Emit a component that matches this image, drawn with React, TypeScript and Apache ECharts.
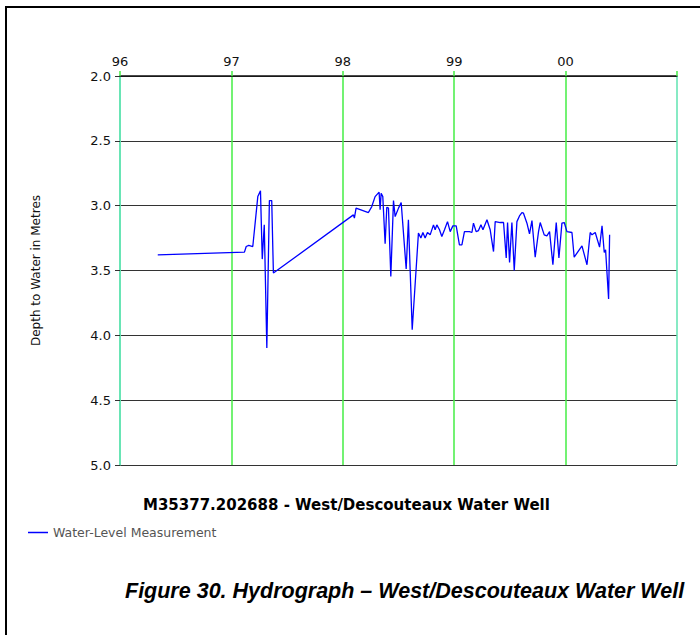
import React, { useEffect, useRef } from "react";
import * as echarts from "echarts";

const years: number[] = [
  1996.339, 1997.117, 1997.133, 1997.156, 1997.192, 1997.237, 1997.261, 1997.277, 1997.295, 1997.318,
  1997.341, 1997.362, 1997.377, 1998.095, 1998.104, 1998.119, 1998.23, 1998.26, 1998.29, 1998.326,
  1998.335, 1998.344, 1998.359, 1998.38, 1998.395, 1998.41, 1998.431, 1998.455, 1998.47, 1998.5,
  1998.524, 1998.569, 1998.589, 1998.623, 1998.679, 1998.701, 1998.719, 1998.739, 1998.76, 1998.784,
  1998.814, 1998.829, 1998.844, 1998.868, 1998.889, 1998.913, 1998.94, 1998.964, 1998.988, 1999.018,
  1999.047, 1999.069, 1999.092, 1999.137, 1999.159, 1999.173, 1999.197, 1999.218, 1999.24, 1999.258,
  1999.294, 1999.323, 1999.353, 1999.368, 1999.413, 1999.443, 1999.467, 1999.479, 1999.497, 1999.518,
  1999.539, 1999.563, 1999.586, 1999.608, 1999.622, 1999.653, 1999.676, 1999.698, 1999.727, 1999.757,
  1999.772, 1999.808, 1999.832, 1999.856, 1999.886, 1999.916, 1999.94, 1999.967, 1999.988, 2000.012,
  2000.057, 2000.077, 2000.147, 2000.192, 2000.221, 2000.237, 2000.266, 2000.305, 2000.327, 2000.347,
  2000.359, 2000.386, 2000.395,
];

const depths: number[] = [
  3.379, 3.358, 3.315, 3.307, 3.315, 2.93, 2.886, 3.412, 3.148, 4.098,
  2.961, 2.961, 3.52, 3.071, 3.096, 3.019, 3.053, 3.007, 2.93, 2.896,
  3.032, 2.904, 2.93, 3.294, 3.012, 3.019, 3.546, 2.961, 3.084, 3.019,
  2.976, 3.489, 3.109, 3.957, 3.212, 3.25, 3.207, 3.25, 3.207, 3.225,
  3.148, 3.186, 3.148, 3.186, 3.238, 3.186, 3.123, 3.2, 3.156, 3.156,
  3.302, 3.302, 3.2, 3.2, 3.207, 3.135, 3.2, 3.192, 3.148, 3.186,
  3.109, 3.186, 3.354, 3.123, 3.13, 3.13, 3.404, 3.13, 3.438, 3.13,
  3.5, 3.123, 3.079, 3.053, 3.058, 3.135, 3.217, 3.115, 3.397, 3.2,
  3.13, 3.225, 3.233, 3.2, 3.456, 3.13, 3.404, 3.135, 3.13, 3.2,
  3.207, 3.397, 3.31, 3.456, 3.207, 3.225, 3.207, 3.32, 3.156, 3.361,
  3.341, 3.72, 3.225,
];

const xTickLabels: string[] = ["96", "97", "98", "99", "00"];
const xStart = 1996;

const chartTitle = "M35377.202688 - West/Descouteaux Water Well";
const seriesName = "Water-Level Measurement";
const yAxisName = "Depth to Water in Metres";
const caption = "Figure 30. Hydrograph \u2013 West/Descouteaux Water Well";

export default function App() {
  const ref = useRef<HTMLDivElement>(null);

  useEffect(() => {
    document.body.style.margin = "0";
    if (!ref.current) return;
    const chart = echarts.init(ref.current, null, { renderer: "svg" });
    const aqua = "#5fe3b0";
    const green = "#44ee44";
    chart.setOption({
      animation: false,
      backgroundColor: "#ffffff",
      title: {
        text: chartTitle,
        left: 138,
        top: 492,
        textStyle: {
          fontFamily: "DejaVu Sans",
          fontSize: 15,
          fontWeight: "bold",
          color: "#000",
        },
      },
      legend: {
        left: 23,
        top: 521,
        icon: "rect",
        itemWidth: 20,
        itemHeight: 1.5,
        itemGap: 5,
        data: [seriesName],
        textStyle: {
          fontFamily: "DejaVu Sans",
          fontSize: 12.5,
          color: "#555",
          padding: [0, 0, 0, 0],
        },
      },
      grid: { left: 120, top: 76, width: 557, height: 389, containLabel: false },
      xAxis: {
        type: "value",
        position: "top",
        min: 1996,
        max: 2001,
        interval: 1,
        axisLine: { show: true, lineStyle: { color: "#111", width: 1.5 } },
        axisTick: { show: true, length: 5, lineStyle: { color: green, width: 1.5 } },
        axisLabel: {
          margin: 8,
          fontFamily: "DejaVu Sans",
          fontSize: 13,
          color: "#111",
          formatter: (v: number) => xTickLabels[Math.round(v - xStart)] ?? "",
        },
        splitLine: {
          show: true,
          showMinLine: true,
          showMaxLine: true,
          lineStyle: { color: [aqua, green, green, green, green, aqua], width: 1.5 },
        },
      },
      yAxis: {
        type: "value",
        inverse: true,
        min: 2,
        max: 5,
        interval: 0.5,
        name: yAxisName,
        nameLocation: "middle",
        nameGap: 78,
        nameRotate: 90,
        nameTextStyle: { fontFamily: "DejaVu Sans", fontSize: 12, color: "#111" },
        axisLine: { show: true, lineStyle: { color: aqua, width: 1.5 } },
        axisTick: { show: true, length: 5, lineStyle: { color: "#333" } },
        axisLabel: {
          margin: 9,
          fontFamily: "DejaVu Sans",
          fontSize: 13,
          color: "#111",
          formatter: (v: number) => v.toFixed(1),
        },
        splitLine: { show: true, lineStyle: { color: "#333", width: 1.2 } },
      },
      series: [
        {
          name: seriesName,
          type: "line",
          data: years.map((y, i) => [y, depths[i]]),
          symbol: "none",
          showSymbol: false,
          lineStyle: { color: "#0000ff", width: 1.3 },
          itemStyle: { color: "#0000ff" },
          z: 5,
        },
      ],
      graphic: [
        {
          type: "polyline",
          shape: { points: [[6, 635], [6, 7], [700, 7]] },
          style: { stroke: "#000", lineWidth: 2, fill: "none" },
          silent: true,
        },
        {
          type: "text",
          left: 125,
          top: 580,
          style: {
            text: caption,
            fontFamily: "Liberation Sans",
            fontSize: 21.5,
            fontWeight: "bold",
            fontStyle: "italic",
            fill: "#000",
          },
        },
      ],
    });
    return () => chart.dispose();
  }, []);

  return <div ref={ref} style={{ width: 700, height: 635 }} />;
}
